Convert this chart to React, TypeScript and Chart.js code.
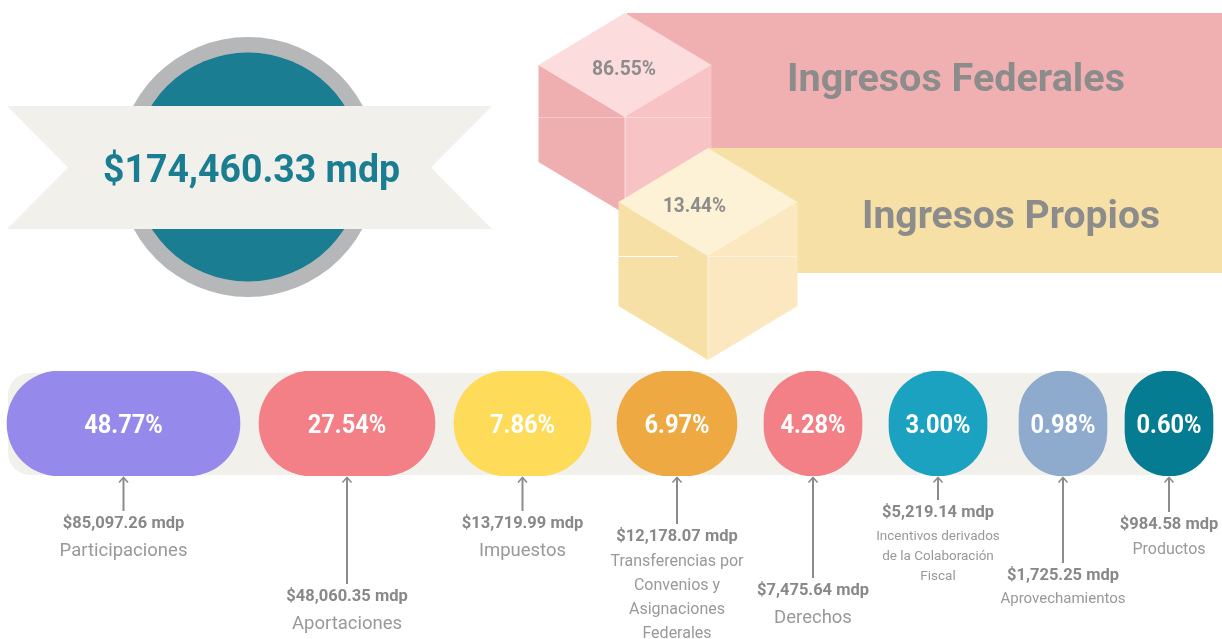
import React, { useEffect, useRef } from 'react';
import { Chart, registerables } from 'chart.js';

Chart.register(...registerables);

// ---------- DATA ----------
const totalLabel = '$174,460.33 mdp';
const groupNames = ['Ingresos Federales', 'Ingresos Propios'];
const groupShares = [86.55, 13.44];

const categories = [
  'Participaciones',
  'Aportaciones',
  'Impuestos',
  'Transferencias por Convenios y Asignaciones Federales',
  'Derechos',
  'Incentivos derivados de la Colaboración Fiscal',
  'Aprovechamientos',
  'Productos',
];
const shares = [48.77, 27.54, 7.86, 6.97, 4.28, 3.0, 0.98, 0.6];
const amounts = [85097.26, 48060.35, 13719.99, 12178.07, 7475.64, 5219.14, 1725.25, 984.58];

// ---------- LAYOUT / STYLE ----------
const pillColors = ['#9589ec', '#f37f87', '#fedb58', '#eea942', '#f37f87', '#1ba2c0', '#8eaacc', '#067c93'];
const pillWidths = [233, 176, 137, 120, 98, 98, 88, 88];
const pillGaps = [19, 19, 26, 27, 27, 32, 18];
const firstPillStart = 7;
const arrowLengths = [34, 107, 34, 47, 101, 23, 86, 35];
const nameLineBreaks = [
  ['Participaciones'],
  ['Aportaciones'],
  ['Impuestos'],
  ['Transferencias por', 'Convenios y', 'Asignaciones', 'Federales'],
  ['Derechos'],
  ['Incentivos derivados', 'de la Colaboración', 'Fiscal'],
  ['Aprovechamientos'],
  ['Productos'],
];
const nameSizes = [18.5, 18.5, 18.5, 16, 18.5, 13.5, 15, 16];
const nameLineHeights = [24, 24, 24, 24.3, 24, 20.3, 24, 24];
const nameOffsets = [28, 28.5, 28, 25, 28, 23, 23, 25];

const FONT = 'Roboto, "Noto Sans", sans-serif';
const GREY_TXT = '#888888';
const NAME_TXT = '#999999';

const fmtMoney = (v: number) =>
  '$' + v.toLocaleString('en-US', { minimumFractionDigits: 2, maximumFractionDigits: 2 }) + ' mdp';
const fmtPct = (v: number) => v.toFixed(2) + '%';

function drawText(
  ctx: CanvasRenderingContext2D,
  s: string,
  x: number,
  baseline: number,
  font: string,
  color: string,
  opts: { sx?: number; fitW?: number } = {}
) {
  ctx.save();
  ctx.font = font;
  ctx.fillStyle = color;
  ctx.textAlign = 'center';
  ctx.textBaseline = 'alphabetic';
  let sx = opts.sx ?? 1;
  if (opts.fitW) sx = opts.fitW / ctx.measureText(s).width;
  ctx.translate(x, baseline);
  ctx.scale(sx, 1);
  ctx.fillText(s, 0, 0);
  ctx.restore();
}

function poly(ctx: CanvasRenderingContext2D, pts: number[][], color: string) {
  ctx.beginPath();
  ctx.moveTo(pts[0][0], pts[0][1]);
  for (let i = 1; i < pts.length; i++) ctx.lineTo(pts[i][0], pts[i][1]);
  ctx.closePath();
  ctx.fillStyle = color;
  ctx.fill();
}

function line(ctx: CanvasRenderingContext2D, x1: number, y1: number, x2: number, y2: number, color: string, w: number) {
  ctx.beginPath();
  ctx.moveTo(x1, y1);
  ctx.lineTo(x2, y2);
  ctx.strokeStyle = color;
  ctx.lineWidth = w;
  ctx.stroke();
}

function cube(
  ctx: CanvasRenderingContext2D,
  cx: number,
  top: number,
  halfW: number,
  dy: number,
  depth: number,
  cols: string[]
) {
  const l = cx - halfW;
  const r = cx + halfW;
  const mid = top + dy;
  const bot = top + 2 * dy;
  poly(ctx, [[l, mid], [cx, bot], [cx, bot + depth], [l, mid + depth]], cols[1]);
  poly(ctx, [[cx, bot], [r, mid], [r, mid + depth], [cx, bot + depth]], cols[2]);
  poly(ctx, [[cx, top], [r, mid], [cx, bot], [l, mid]], cols[0]);
  line(ctx, cx, bot, cx, bot + depth, 'rgba(255,255,255,0.55)', 1);
}

const decor = {
  id: 'decor',
  beforeDatasetsDraw(chart: any) {
    const ctx: CanvasRenderingContext2D = chart.ctx;
    ctx.save();
    // medallion
    ctx.beginPath();
    ctx.arc(248, 167, 130, 0, Math.PI * 2);
    ctx.fillStyle = '#b6b7b9';
    ctx.fill();
    ctx.beginPath();
    ctx.arc(248, 167, 114.5, 0, Math.PI * 2);
    ctx.fillStyle = '#1a7d91';
    ctx.fill();
    poly(ctx, [[7, 106], [492, 106], [431, 167.5], [492, 229], [7, 229], [68, 167.5]], '#f1f0eb');
    drawText(ctx, totalLabel, 251.5, 182, `bold 38px ${FONT}`, '#1a7d91', { fitW: 297 });

    // federal band + cube
    ctx.fillStyle = '#f0b0b1';
    ctx.fillRect(627, 13, 595, 135);
    cube(ctx, 625, 13, 86.5, 52, 97, ['#fddcdd', '#efaeb0', '#f8c3c4']);
    line(ctx, 538, 117.5, 711, 117.5, 'rgba(255,255,255,0.35)', 1);

    // own band + cube
    ctx.fillStyle = '#f7e0a6';
    ctx.fillRect(708, 148, 514, 125);
    cube(ctx, 708, 148, 89.5, 54, 104, ['#fdf1d6', '#f7e0a6', '#fbe8c0']);
    line(ctx, 618, 256.5, 678, 256.5, '#ffffff', 1.2);
    line(ctx, 708, 256.5, 797, 256.5, 'rgba(255,255,255,0.45)', 1);

    drawText(ctx, fmtPct(groupShares[0]), 624, 75, `bold 21px ${FONT}`, '#8c8c8c', { fitW: 64 });
    drawText(ctx, fmtPct(groupShares[1]), 694.5, 212, `bold 21px ${FONT}`, '#8c8c8c', { fitW: 63 });
    drawText(ctx, groupNames[0], 956, 91, `bold 38px ${FONT}`, '#8c8c8c', { fitW: 338 });
    drawText(ctx, groupNames[1], 1011, 228, `bold 38px ${FONT}`, '#8c8c8c', { fitW: 298 });

    // band behind the pills
    const a = chart.chartArea;
    ctx.beginPath();
    (ctx as any).roundRect(8, a.top + 2, 1190, a.bottom - a.top - 3, 22);
    ctx.fillStyle = '#f1f0eb';
    ctx.fill();
    ctx.restore();
  },
  afterDatasetsDraw(chart: any) {
    const ctx: CanvasRenderingContext2D = chart.ctx;
    ctx.save();
    chart.data.datasets.forEach((ds: any, i: number) => {
      const el = chart.getDatasetMeta(i).data[0];
      if (!el) return;
      const p = el.getProps(['x', 'y', 'base', 'height'], true);
      const cx = (p.x + p.base) / 2;
      const bottom = p.y + p.height / 2;
      drawText(ctx, fmtPct(shares[i]), cx, p.y + 9.5, `bold 26px ${FONT}`, '#ffffff', { sx: 0.91 });

      // arrow
      const tip = bottom + 1;
      const end = tip + arrowLengths[i];
      line(ctx, cx, tip + 1, cx, end, '#8c8c8c', 2);
      ctx.beginPath();
      ctx.moveTo(cx - 4.5, tip + 5.5);
      ctx.lineTo(cx, tip + 0.5);
      ctx.lineTo(cx + 4.5, tip + 5.5);
      ctx.strokeStyle = '#8c8c8c';
      ctx.lineWidth = 1.6;
      ctx.stroke();

      const amtBase = end + 16.5;
      drawText(ctx, fmtMoney(amounts[i]), cx, amtBase, `bold 17px ${FONT}`, GREY_TXT, { sx: 0.97 });
      const lines = nameLineBreaks[i];
      lines.forEach((ln, k) => {
        drawText(
          ctx,
          ln,
          cx,
          amtBase + nameOffsets[i] + k * nameLineHeights[i],
          `${nameSizes[i]}px ${FONT}`,
          NAME_TXT
        );
      });
    });
    ctx.restore();
  },
};

export default function App() {
  const ref = useRef<HTMLCanvasElement>(null);
  useEffect(() => {
    document.body.style.margin = '0';
    const canvas = ref.current!;
    const starts: number[] = [];
    let s = firstPillStart;
    pillWidths.forEach((w, i) => {
      starts.push(s);
      s += w + (pillGaps[i] ?? 0);
    });
    const chart = new Chart(canvas, {
      type: 'bar',
      data: {
        labels: ['Ingresos'],
        datasets: categories.map((c, i) => ({
          label: c,
          data: [[starts[i], starts[i] + pillWidths[i]]] as any,
          backgroundColor: pillColors[i],
          borderRadius: 80,
          borderSkipped: false,
          grouped: false,
          barPercentage: 1,
          categoryPercentage: 1,
        })),
      },
      options: {
        indexAxis: 'y',
        responsive: false,
        animation: false,
        devicePixelRatio: 1,
        layout: { padding: { top: 371, bottom: 163, left: 0, right: 0 } },
        scales: {
          x: { type: 'linear', min: 0, max: 1222, display: false },
          y: { display: false },
        },
        plugins: { legend: { display: false }, tooltip: { enabled: false } },
      } as any,
      plugins: [decor],
    });
    return () => chart.destroy();
  }, []);
  return (
    <div style={{ width: 1222, height: 639, background: '#ffffff' }}>
      <canvas ref={ref} width={1222} height={639} style={{ display: 'block' }} />
    </div>
  );
}
